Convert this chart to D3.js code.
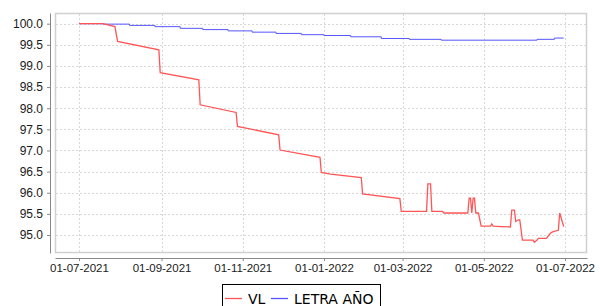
<!DOCTYPE html>
<html>
<head>
<meta charset="utf-8">
<script src="https://cdn.jsdelivr.net/npm/d3@7"></script>
<style>
  body { margin: 0; background: #fff; }
  svg { display: block; font-family: "DejaVu Sans", sans-serif; }
  .grid line { stroke: #d8d8d8; stroke-dasharray: 2,2; }
  .axis path, .axis line { stroke: #888; }
  .axis text { fill: #1a1a1a; }
</style>
</head>
<body>
<svg width="600" height="306"></svg>
<script>
(function () {
    // Serie VL (fechas y valores)
    var vlFechas = ["2021-07-01","2021-07-19","2021-07-28","2021-07-30","2021-08-30","2021-08-31",
        "2021-09-29","2021-09-30","2021-10-27","2021-10-28","2021-11-28","2021-11-29",
        "2021-12-29","2021-12-30","2022-01-06","2022-01-29","2022-01-30","2022-02-27","2022-02-28",
        "2022-03-19","2022-03-20","2022-03-22","2022-03-23","2022-03-31","2022-04-01",
        "2022-04-19","2022-04-20","2022-04-21","2022-04-22","2022-04-23","2022-04-24","2022-04-25",
        "2022-04-27","2022-04-29","2022-05-06","2022-05-07","2022-05-08","2022-05-14","2022-05-21",
        "2022-05-22","2022-05-24","2022-05-25","2022-05-27","2022-05-28","2022-05-30",
        "2022-06-07","2022-06-08","2022-06-10","2022-06-11","2022-06-17","2022-06-20","2022-06-22",
        "2022-06-26","2022-06-27","2022-06-30"];
    var vlValores = [100.00,100.00,99.93,99.58,99.38,98.84,
        98.67,98.08,97.90,97.57,97.37,97.01,
        96.84,96.48,96.44,96.36,95.97,95.86,95.56,
        95.56,96.21,96.21,95.56,95.56,95.52,
        95.52,95.87,95.87,95.52,95.87,95.87,95.52,
        95.52,95.21,95.21,95.26,95.21,95.20,95.19,
        95.59,95.59,95.32,95.36,95.36,94.88,
        94.88,94.83,94.88,94.92,94.92,95.04,95.08,
        95.11,95.52,95.20];

    // Serie LETRA AÑO (escalones)
    var letraFechas = ["2021-07-01","2021-07-19","2021-08-08","2021-08-27","2021-09-15","2021-10-02",
        "2021-10-21","2021-11-08","2021-11-26","2021-12-15","2022-01-01","2022-01-21","2022-02-13",
        "2022-03-06","2022-03-30","2022-06-10","2022-06-23","2022-06-30"];
    var letraValores = [100.00,99.99,99.96,99.93,99.89,99.86,
        99.83,99.80,99.77,99.74,99.72,99.69,99.65,
        99.63,99.61,99.63,99.66,99.66];

    var ticksY = [95.0,95.5,96.0,96.5,97.0,97.5,98.0,98.5,99.0,99.5,100.0];
    var series = [
        {nombre: "VL", color: "#ff5555"},
        {nombre: "LETRA AÑO", color: "#5555ff"}
    ];

    var parseFecha = d3.timeParse("%Y-%m-%d");
    var svg = d3.select("svg");
    var plot = {left: 55, right: 587, top: 13, bottom: 253};

    var x = d3.scaleTime()
            .domain([parseFecha("2021-06-13"), new Date(2022, 6, 17, 12)])
            .range([plot.left, plot.right]);
    var y = d3.scaleLinear()
            .domain([94.574, 100.253])
            .range([plot.bottom, plot.top]);

    var ticksX = d3.timeMonth.every(2).range(parseFecha("2021-07-01"), parseFecha("2022-07-02"));

    //Fondo y rejilla
    svg.append("rect")
            .attr("x", plot.left + 0.5).attr("y", plot.top + 0.5)
            .attr("width", plot.right - plot.left - 1).attr("height", plot.bottom - plot.top - 1)
            .attr("fill", "#fff").attr("stroke", "#d0d0d0").attr("stroke-width", 1.5);

    var grid = svg.append("g").attr("class", "grid");
    grid.selectAll(".gx").data(ticksX).enter().append("line")
            .attr("x1", d => Math.round(x(d)) + 0.5).attr("x2", d => Math.round(x(d)) + 0.5)
            .attr("y1", plot.top + 1).attr("y2", plot.bottom - 1);
    grid.selectAll(".gy").data(ticksY).enter().append("line")
            .attr("y1", d => Math.round(y(d)) + 0.5).attr("y2", d => Math.round(y(d)) + 0.5)
            .attr("x1", plot.left + 1).attr("x2", plot.right - 1);

    //Ejes desplazados 5px del area
    var ejeX = svg.append("g").attr("class", "axis")
            .attr("transform", "translate(0," + (plot.bottom + 5) + ")")
            .call(d3.axisBottom(x).tickValues(ticksX).tickFormat(d3.timeFormat("%d-%m-%Y"))
                    .tickSizeInner(3).tickSizeOuter(0).tickPadding(3));
    ejeX.selectAll("text").style("font-size", "11.5px");

    var ejeY = svg.append("g").attr("class", "axis")
            .attr("transform", "translate(" + (plot.left - 5) + ",0)")
            .call(d3.axisLeft(y).tickValues(ticksY).tickFormat(d3.format(".1f"))
                    .tickSizeInner(3).tickSizeOuter(0).tickPadding(4));
    ejeY.selectAll("text").style("font-size", "12px");

    //Lineas
    var vl = vlFechas.map((f, i) => ({fecha: parseFecha(f), valor: vlValores[i]}));
    var letra = letraFechas.map((f, i) => ({fecha: parseFecha(f), valor: letraValores[i]}));

    svg.append("path").datum(letra)
            .attr("fill", "none").attr("stroke", series[1].color).attr("stroke-width", 1)
            .attr("d", d3.line().curve(d3.curveStepAfter).x(d => x(d.fecha)).y(d => y(d.valor)));
    svg.append("path").datum(vl)
            .attr("fill", "none").attr("stroke", series[0].color).attr("stroke-width", 1.3)
            .attr("d", d3.line().x(d => x(d.fecha)).y(d => y(d.valor)));

    //Leyenda
    var leyenda = svg.append("g").attr("transform", "translate(222,284)");
    leyenda.append("rect").attr("x", 0.5).attr("y", 0.5).attr("width", 158).attr("height", 30)
            .attr("fill", "#fff").attr("stroke", "#000");
    var posiciones = [{l: 3, t: 26}, {l: 49, t: 72}];
    series.forEach(function (s, i) {
        leyenda.append("line")
                .attr("x1", posiciones[i].l).attr("x2", posiciones[i].l + 17)
                .attr("y1", 14.5).attr("y2", 14.5)
                .attr("stroke", s.color).attr("stroke-width", 1.3);
        leyenda.append("text")
                .attr("x", posiciones[i].t).attr("y", 19.5)
                .style("font-size", "14px").attr("fill", "#000")
                .text(s.nombre);
    });
})();
</script>
</body>
</html>
